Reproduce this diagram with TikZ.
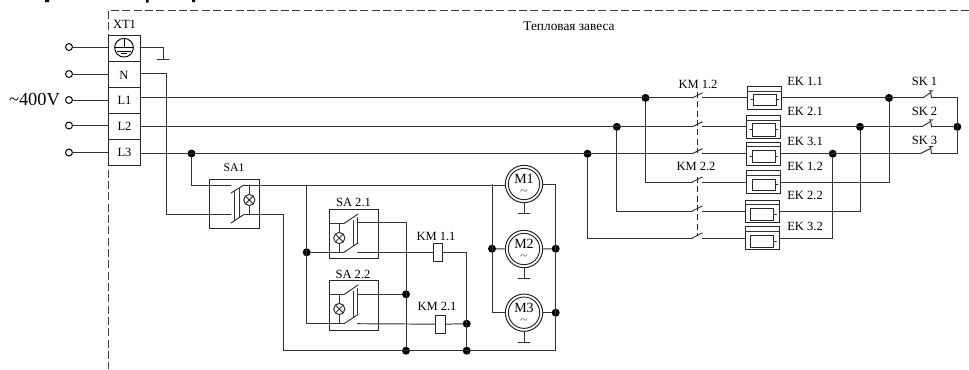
\documentclass[tikz,border=0pt]{standalone}
\usepackage{fontspec}
\setmainfont{Liberation Serif}
\usetikzlibrary{calc}
\tikzset{
  wire/.style={draw=black!80,line width=0.72pt,line cap=round,line join=miter},
  boxs/.style={draw=black!85,line width=0.75pt,rectangle,inner sep=0pt,outer sep=0pt,fill=none},
  term/.style={draw=black,line width=0.75pt,circle,inner sep=0pt,outer sep=0pt,minimum size=5.2pt,fill=white},
  junction/.style={circle,fill=black,inner sep=0pt,outer sep=0pt,minimum size=6pt},
  lamp/.style={draw=black!85,line width=0.7pt,circle,inner sep=0pt,outer sep=0pt,minimum size=8.4pt,path picture={\draw[black!85,line width=0.6pt] ($(path picture bounding box.north west)+(1.2pt,-1.2pt)$) -- ($(path picture bounding box.south east)+(-1.2pt,1.2pt)$) ($(path picture bounding box.north east)+(-1.2pt,-1.2pt)$) -- ($(path picture bounding box.south west)+(1.2pt,1.2pt)$);}},
  lab/.style={inner sep=0pt,outer sep=0pt,font=\fontsize{9.4pt}{10pt}\selectfont,text=black},
  smalllab/.style={inner sep=0pt,outer sep=0pt,font=\fontsize{10.5pt}{11pt}\selectfont,text=black},
  mech/.style={draw=black!85,line width=0.7pt,dash pattern=on 4.5pt off 2.5pt},
  frameline/.style={draw=black!75,line width=0.75pt,dash pattern=on 6pt off 2.5pt},
  mot/.style={draw=black!85,line width=0.75pt,circle,inner sep=0pt,outer sep=0pt,fill=white},
}
\newcommand{\pbox}[5]{\node[boxs,minimum width={(#4-#2)*0.75pt},minimum height={(#5-#3)*0.75pt}] (#1) at ({(#2+#4)/2},{(#3+#5)/2}) {};}
% power contact: name, x, y
\newcommand{\pcontact}[3]{\coordinate (#1l) at (#2,#3);\coordinate (#1r) at (#2+10,#3);\coordinate (#1t) at (#2+10,#3-5);\draw[wire] (#1l) -- (#1t);}
% SK contact: name, x, y
\newcommand{\skcontact}[3]{\coordinate (#1l) at (#2,#3);\coordinate (#1r) at (931.5,#3);\coordinate (#1t) at (930.5,#3-7);\draw[wire] (#1l) -- (930,#3-5) (#1t) -- (#1r) (929,#3-7) -- (933,#3-7);}
% rule across a box at height y
\newcommand{\htop}[2]{\coordinate (#1y) at (0,#2);\draw[wire] (#1.west|-#1y) -- (#1.east|-#1y);}
\newcommand{\motor}[3]{\node[mot,minimum size=28pt] (#1) at (#2,#3) {};\node[draw=black!85,line width=0.7pt,circle,inner sep=0pt,minimum size=23.5pt] (#1i) at (#2,#3) {};\node[smalllab] (#1t) at (#2,#3-5) {#1};\node[smalllab,text=black!60] (#1w) at (#2,#3+9) {\textasciitilde};
\coordinate (#1g) at (#2,#3+29.5);\coordinate (#1a) at (#2-6,#3+29.5);\coordinate (#1b) at (#2+6,#3+29.5);\draw[wire] (#1.south) -- (#1g) (#1a) -- (#1b);}
\begin{document}
\begin{tikzpicture}[x=0.75pt,y=-0.75pt]
\useasboundingbox (0,0) rectangle (969,369);
% cropped heading descenders
\fill[black] (45,0) rectangle (49,2) (146,0) rectangle (148.5,2.5) (192,0) rectangle (195,2);
% frame
\coordinate (fa) at (969,10);\coordinate (fb) at (108.5,10);\coordinate (fc) at (108.5,369);
\draw[frameline] (fa) -- (fb) -- (fc);
\node[lab,anchor=west] (xtl) at (113,24) {XT1};
\node[lab,font=\fontsize{10pt}{11pt}\selectfont] (title) at (569,26) {Тепловая завеса};
% terminal block
\pbox{rE}{108.5}{35}{140}{61}
\pbox{rN}{108.5}{61}{140}{87.5}
\pbox{rA}{108.5}{87.5}{140}{113.5}
\pbox{rB}{108.5}{113.5}{140}{139.5}
\pbox{rC}{108.5}{139.5}{140}{165.5}
\node[lab] at (124,75) (tN) {N};
\node[lab] at (124.5,100.5) (tA) {L1};
\node[lab] at (124.5,126) (tB) {L2};
\node[lab] at (124.5,152) (tC) {L3};
\node[draw=black,line width=0.7pt,circle,inner sep=0pt,minimum size=14pt] (earth) at (124,47.7) {};
\draw[black,line width=0.7pt] (earth.north) -- (earth.center) (earth.west) -- (earth.east) ([xshift=-5pt,yshift=-2.5pt]earth.center) -- ([xshift=5pt,yshift=-2.5pt]earth.center) ([xshift=-2.5pt,yshift=-4.5pt]earth.center) -- ([xshift=2.5pt,yshift=-4.5pt]earth.center);
% terminals
\node[term] (c1) at (69,47) {};
\node[term] (c2) at (69,74) {};
\node[term] (c3) at (69,100) {};
\node[term] (c4) at (69,125.5) {};
\node[term] (c5) at (69,152.5) {};
\draw[wire] (c1) -- (c1-|rE.west);
\draw[wire] (c2) -- (c2-|rN.west);
\draw[wire] (c3) -- (c3-|rA.west);
\draw[wire] (c4) -- (c4-|rB.west);
\draw[wire] (c5) -- (c5-|rC.west);
\node[inner sep=0pt,font=\fontsize{13.8pt}{15pt}\selectfont] (v) at (34.5,99.5) {\textasciitilde400V};
% ground of earth terminal
\coordinate (eg) at (163,59);\coordinate (ega) at (157,59);\coordinate (egb) at (169,59);
\draw[wire] (rE.east|-c1) -- (eg|-c1) -- (eg);
\draw[wire] (ega) -- (egb);
% SA1
\pbox{SAa}{209.5}{179}{259.3}{228}
\node[lab,font=\fontsize{8.8pt}{10pt}\selectfont] (SAal) at (234,168) {SA1};
\coordinate (sa1l) at (231,185);\coordinate (sa1lb) at (231,214.5);
\coordinate (sa1bl) at (231,193);\coordinate (sa1br) at (244,185);
\coordinate (sa1cl) at (231,223);\coordinate (sa1cr) at (244,214.5);
\draw[wire] (sa1bl) -- (sa1br) (sa1cl) -- (sa1cr);
\draw[wire] (234.5,191) -- (234.5,220.5) (239,188.5) -- (239,217.5);
\node[lamp] (lampa) at (249.3,200) {};
\draw[wire] (lampa.north) -- (lampa.north|-sa1br) (lampa.south) -- (lampa.south|-sa1cr);
% motors
\motor{M1}{524}{184}
\motor{M2}{524}{249}
\motor{M3}{524}{312.7}
\coordinate (busr) at (555.7,184);
\node[junction] (jM2r) at (555.7,248.7) {};
\node[junction] (jM3r) at (555.7,312.7) {};
\node[junction] (jM2l) at (492,248.7) {};
\coordinate (busl) at (492,184.5);
\coordinate (bl) at (555.7,350.7);
\node[junction] (jb1) at (406,350.7) {};
\node[junction] (jb2) at (466.7,350.7) {};
\coordinate (sa1out) at (283.3,214.5);
\coordinate (sa1outb) at (283.3,350.7);
% wires from SA1
\node[junction] (jL3) at (191.5,153.5) {};
\coordinate (n1) at (166.5,73);\coordinate (n2) at (166.5,214.5);
\coordinate (l3d) at (191.5,185);
\draw[wire] (rN.east|-n1) -- (n1) -- (n2) -- (sa1lb);
\draw[wire] (jL3) -- (l3d) -- (sa1l);
\draw[wire] (sa1br) -- (M1.west|-sa1br);
\draw[wire] (sa1cr) -- (sa1out) -- (sa1outb) -- (bl) -- (busr) -- (M1.east);
\draw[wire] (busl) -- (busl|-M3.west) -- (M3.west);
\draw[wire] (jM2l) -- (M2.west);
\draw[wire] (M2.east) -- (jM2r);
\draw[wire] (M3.east) -- (jM3r);
% SA2.x
\pbox{SAb}{329.3}{209.3}{378.3}{258.7}
\pbox{SAc}{329.3}{280.7}{378.3}{330}
\node[lab] (SAbl) at (353.5,202) {SA 2.1};
\node[lab] (SAcl) at (353,274) {SA 2.2};
\coordinate (tap) at (306.7,185);
\node[junction] (jtap) at (306.7,252.3) {};
\coordinate (tapb) at (306.7,323.7);
\draw[wire] (tap) -- (tapb) -- (344,323.7);
\draw[wire] (jtap) -- (344,252.3);
\coordinate (b1u) at (344,223.5);\coordinate (b2u) at (344,294.5);
\draw[wire] (SAb.west|-b1u) -- (b1u) -- (358,214) (344,252.3) -- (358,243);
\draw[wire] (SAc.west|-b2u) -- (b2u) -- (358,285) (344,323.7) -- (358,314.5);
\draw[wire] (353.5,220.5) -- (353.5,245.5) (357,217.5) -- (357,243);
\draw[wire] (353.5,291.5) -- (353.5,316.5) (357,288.5) -- (357,314);
\node[lamp] (lampb) at (339.3,238) {};
\node[lamp] (lampc) at (339.3,309) {};
\draw[wire] (lampb.north) -- (lampb.north|-b1u) (lampb.south) -- (339.3,252.3);
\draw[wire] (lampc.north) -- (lampc.north|-b2u) (lampc.south) -- (339.3,323.7);
% coils
\pbox{KMa}{433.7}{243.3}{442.3}{261.3}
\pbox{KMb}{435.5}{315}{445}{333.3}
\node[lab] (KMal) at (436,236) {KM 1.1};
\node[lab] (KMbl) at (437,306.7) {KM 2.1};
\coordinate (s1) at (357.5,222.7);\coordinate (s1c) at (406,222.7);
\node[junction] (jS2) at (406,294.3) {};
\draw[wire] (s1) -- (s1c) -- (jb1);
\draw[wire] (357.5,294.3) -- (jS2);
\draw[wire] (357.5,252.3) -- (KMa.west);
\draw[wire] (357.5,323.7) -- (KMb.west);
\node[junction] (jK2) at (466.7,323.7) {};
\coordinate (k1) at (466.7,252.3);
\draw[wire] (KMa.east) -- (k1) -- (jb2);
\draw[wire] (KMb.east) -- (jK2);
% power section
\pcontact{ca}{692.3}{97.9}
\pcontact{cb}{692.3}{126.8}
\pcontact{cc}{692.3}{153.7}
\pcontact{cd}{692.3}{182}
\pcontact{ce}{692.3}{211}
\pcontact{cf}{692.3}{238}
\coordinate (ma) at (697.7,92);\coordinate (mb) at (697.7,153);
\coordinate (mc) at (697.7,177);\coordinate (md) at (697.7,235);
\draw[mech] (ma) -- (mb) (mc) -- (md);
\node[lab] (k12) at (698,84) {KM 1.2};
\node[lab] (k22) at (696,166) {KM 2.2};
\node[junction] (ja) at (645.5,97.9) {};
\node[junction] (jb) at (616.8,126.8) {};
\node[junction] (jc) at (587.5,153.7) {};
\draw[wire] (rA.east|-cal) -- (cal);
\draw[wire] (rB.east|-cbl) -- (cbl);
\draw[wire] (rC.east|-ccl) -- (ccl);
\coordinate (jad) at (645.5,182);\coordinate (jbd) at (616.8,211);\coordinate (jcd) at (587.5,238);
\draw[wire] (ja) -- (jad) -- (cdl);
\draw[wire] (jb) -- (jbd) -- (cel);
\draw[wire] (jc) -- (jcd) -- (cfl);
% heaters
\pbox{Ha}{747.3}{86.7}{781.7}{109}
\pbox{Hb}{746.3}{115.3}{780.7}{138.3}
\pbox{Hc}{746.3}{142.3}{780.7}{165.3}
\pbox{Hd}{746.3}{170.7}{780.7}{193.3}
\pbox{He}{745.3}{200}{779.7}{222.3}
\pbox{Hf}{745.3}{226.7}{779.7}{249.3}
\htop{Ha}{91.3}
\htop{Hb}{120}
\htop{Hc}{146.7}
\htop{Hd}{175}
\htop{He}{204.7}
\htop{Hf}{231.3}
\pbox{Ia}{753.3}{94.3}{776}{105}
\pbox{Ib}{752.3}{123.7}{775}{136}
\pbox{Ic}{752.3}{150}{775}{162}
\pbox{Id}{752.3}{179}{775}{190.7}
\pbox{Ie}{750.7}{208.3}{773.3}{220.3}
\pbox{If}{750.7}{235}{773.3}{247}
\draw[wire] (Ia.west) -- +(-2.5,0) (Ia.east) -- +(2.5,0);
\draw[wire] (Ib.west) -- +(-2.5,0) (Ib.east) -- +(2.5,0);
\draw[wire] (Ic.west) -- +(-2.5,0) (Ic.east) -- +(2.5,0);
\draw[wire] (Id.east) -- +(3,0);
\draw[wire] (Ie.east) -- +(3,0);
\draw[wire] (If.east) -- +(3,0);
\draw[wire] (car) -- (Ha.west|-car);
\draw[wire] (cbr) -- (Hb.west|-cbr);
\draw[wire] (ccr) -- (Hc.west|-ccr);
\draw[wire] (cdr) -- (Hd.west|-cdr);
\draw[wire] (cer) -- (He.west|-cer);
\draw[wire] (cfr) -- (Hf.west|-cfr);
\node[lab,anchor=west] (e1) at (787.3,81.7) {EK 1.1};
\node[lab,anchor=west] (e2) at (787.3,111.7) {EK 2.1};
\node[lab,anchor=west] (e3) at (787.3,141.7) {EK 3.1};
\node[lab,anchor=west] (e4) at (787.3,166.7) {EK 1.2};
\node[lab,anchor=west] (e5) at (787.3,195.7) {EK 2.2};
\node[lab,anchor=west] (e6) at (787.3,226.7) {EK 3.2};
% SK
\skcontact{sa}{923}{97.9}
\skcontact{sb}{921.7}{126.8}
\skcontact{sc}{920}{153.7}
\node[junction] (jsa) at (889,97.9) {};
\node[junction] (jsb) at (860,126.8) {};
\node[junction] (jsc) at (832.7,153.7) {};
\coordinate (jsad) at (889,182);\coordinate (jsbd) at (860,211);\coordinate (jscd) at (832.7,238);
\draw[wire] (Ha.east|-jsa) -- (sal);
\draw[wire] (Hb.east|-jsb) -- (sbl);
\draw[wire] (Hc.east|-jsc) -- (scl);
\draw[wire] (jsa) -- (jsad) -- (Hd.east|-jsad);
\draw[wire] (jsb) -- (jsbd) -- (He.east|-jsbd);
\draw[wire] (jsc) -- (jscd) -- (Hf.east|-jscd);
\node[junction] (jsr) at (957.3,126.8) {};
\coordinate (sra) at (957.3,97.9);\coordinate (src) at (957.3,153.7);
\draw[wire] (sar) -- (sra) -- (src) -- (scr);
\draw[wire] (sbr) -- (jsr);
\node[lab] (s1l) at (924.5,81.7) {SK 1};
\node[lab] (s2l) at (924.5,111.7) {SK 2};
\node[lab] (s3l) at (924.5,140.7) {SK 3};
\end{tikzpicture}
\end{document}
